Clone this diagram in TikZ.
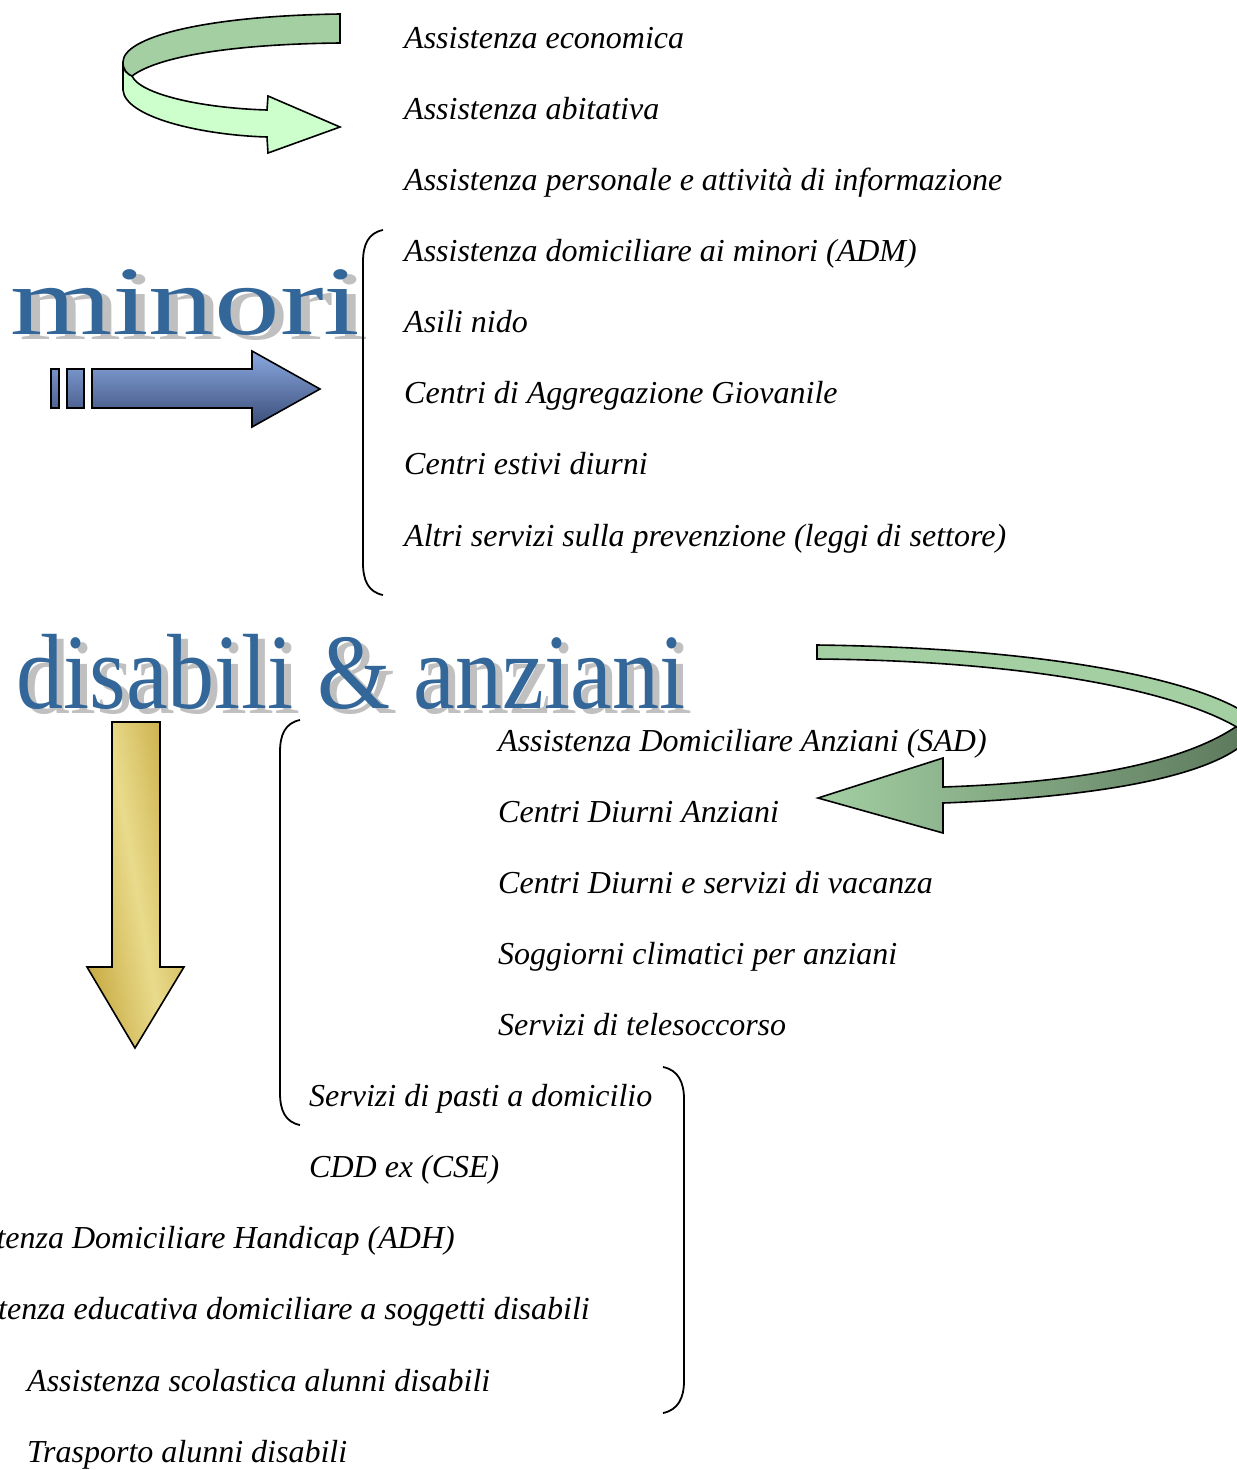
\documentclass[tikz,border=0pt]{standalone}
\usepackage{fontspec}
\setmainfont{Liberation Serif}
\definecolor{titleblue}{HTML}{336699}
\definecolor{shadowgray}{HTML}{C0C0C0}
\definecolor{bandgreen}{HTML}{A3CFA3}
\definecolor{palegreen}{HTML}{CCFFCC}
\definecolor{deepgreen}{HTML}{5C785C}
\definecolor{lightblue}{HTML}{8AA9E0}
\definecolor{darkblue}{HTML}{3A4C78}
\definecolor{goldA}{HTML}{C6A83F}
\definecolor{goldB}{HTML}{E9DB8C}
\tikzset{
  item/.style={anchor=base west, inner sep=0pt, font=\fontsize{32}{38}\selectfont\itshape},
  itemend/.style={anchor=base east, inner sep=0pt, font=\fontsize{32}{38}\selectfont\itshape},
  bracket/.style={draw=black, line width=1.8pt},
  shapeline/.style={draw=black, line width=1.6pt, line join=miter},
}
\begin{document}
\begin{tikzpicture}[x=1pt,y=-1pt]
\clip (0,0) rectangle (1237,1470);
\fill[white] (0,0) rectangle (1237,1470);

% --- top-left curved arrow
\path[shapeline, fill=palegreen] (123,62) -- (123,90) .. controls (125,117) and (200,135) .. (267,137)
  -- (268,153) -- (340,127) -- (268,96) -- (267,110)
  .. controls (200,108) and (140,94) .. (132,76) .. controls (127,74) and (123,70) .. (123,62) -- cycle;
\path[shapeline, fill=bandgreen] (340,14) .. controls (200,16) and (123,38) .. (123,62)
  .. controls (123,70) and (127,74) .. (132,76)
  .. controls (160,55) and (240,44) .. (340,43) -- cycle;

% --- minori title
\node[anchor=base west, inner sep=0pt, font=\fontsize{98}{100}\selectfont, text=shadowgray, xscale=1.34] (minorishadow) at (19,339) {minori};
\node[anchor=base west, inner sep=0pt, font=\fontsize{98}{100}\selectfont, text=titleblue, xscale=1.34] (minori) at (10,334) {minori};

% --- blue arrow
\path[shapeline, top color=lightblue, bottom color=darkblue]
  (51,369) rectangle (59,408)
  (67,369) rectangle (84,408)
  (92,369) -- (252,369) -- (252,351) -- (320,389) -- (252,427) -- (252,408) -- (92,408) -- cycle;

% --- brackets
\draw[bracket] (383,230) .. controls (368,233) and (363,245) .. (363,262) -- (363,563) .. controls (363,580) and (368,592) .. (383,595);
\draw[bracket] (300,720) .. controls (285,723) and (280,735) .. (280,752) -- (280,1093) .. controls (280,1110) and (285,1122) .. (300,1125);
\draw[bracket] (663,1067) .. controls (678,1070) and (684,1082) .. (684,1099) -- (684,1381) .. controls (684,1398) and (678,1410) .. (663,1413);

% --- first list
\node[item] (t1) at (404,48.5) {Assistenza economica};
\node[item] (t2) at (404,119.5) {Assistenza abitativa};
\node[item] (t3) at (404,190.5) {Assistenza personale e attività di informazione};
\node[item] (t4) at (404,261.5) {Assistenza domiciliare ai minori (ADM)};
\node[item] (t5) at (404,332.5) {Asili nido};
\node[item] (t6) at (404,403.5) {Centri di Aggregazione Giovanile};
\node[item] (t7) at (404,474.5) {Centri estivi diurni};
\node[item] (t8) at (404,546.5) {Altri servizi sulla prevenzione (leggi di settore)};

% --- disabili & anziani title
\node[anchor=base west, inner sep=0pt, font=\fontsize{107}{110}\selectfont, text=shadowgray, xscale=0.88] (titleshadow) at (23,713) {disabili \& anziani};
\node[anchor=base west, inner sep=0pt, font=\fontsize{107}{110}\selectfont, text=titleblue, xscale=0.88] (title2) at (16,708) {disabili \& anziani};

% --- right curved arrow
\path[shapeline, left color=bandgreen, right color=deepgreen]
  (1250,716) .. controls (1200,760) and (1090,782) .. (943,787)
  -- (943,758) -- (818,798) -- (943,833) -- (943,803)
  .. controls (1100,797) and (1215,776) .. (1250,738) -- cycle;
\path[shapeline, fill=bandgreen]
  (817,645) .. controls (1050,648) and (1200,680) .. (1250,716)
  -- (1250,736) .. controls (1200,697) and (1050,661) .. (817,659) -- cycle;

% --- gold arrow
\path[shapeline, left color=goldA, right color=goldA, middle color=goldB, shading angle=100]
  (112,722) -- (160,722) -- (160,967) -- (184,967) -- (135,1048) -- (87,967) -- (112,967) -- cycle;

% --- second list
\node[item] (s1) at (498,751.5) {Assistenza Domiciliare Anziani (SAD)};
\node[item] (s2) at (498,822.5) {Centri Diurni Anziani};
\node[item] (s3) at (498,893.5) {Centri Diurni e servizi di vacanza};
\node[item] (s4) at (498,964.5) {Soggiorni climatici per anziani};
\node[item] (s5) at (498,1035.5) {Servizi di telesoccorso};
\node[item] (s6) at (309,1106.5) {Servizi di pasti a domicilio};
\node[item] (s7) at (309,1177.5) {CDD ex (CSE)};
\node[itemend] (s8) at (455,1248.5) {Assistenza Domiciliare Handicap (ADH)};
\node[itemend] (s9) at (590,1319.5) {Assistenza educativa domiciliare a soggetti disabili};
\node[item] (s10) at (27,1391.5) {Assistenza scolastica alunni disabili};
\node[item] (s11) at (27,1462.5) {Trasporto alunni disabili};
\end{tikzpicture}
\end{document}
